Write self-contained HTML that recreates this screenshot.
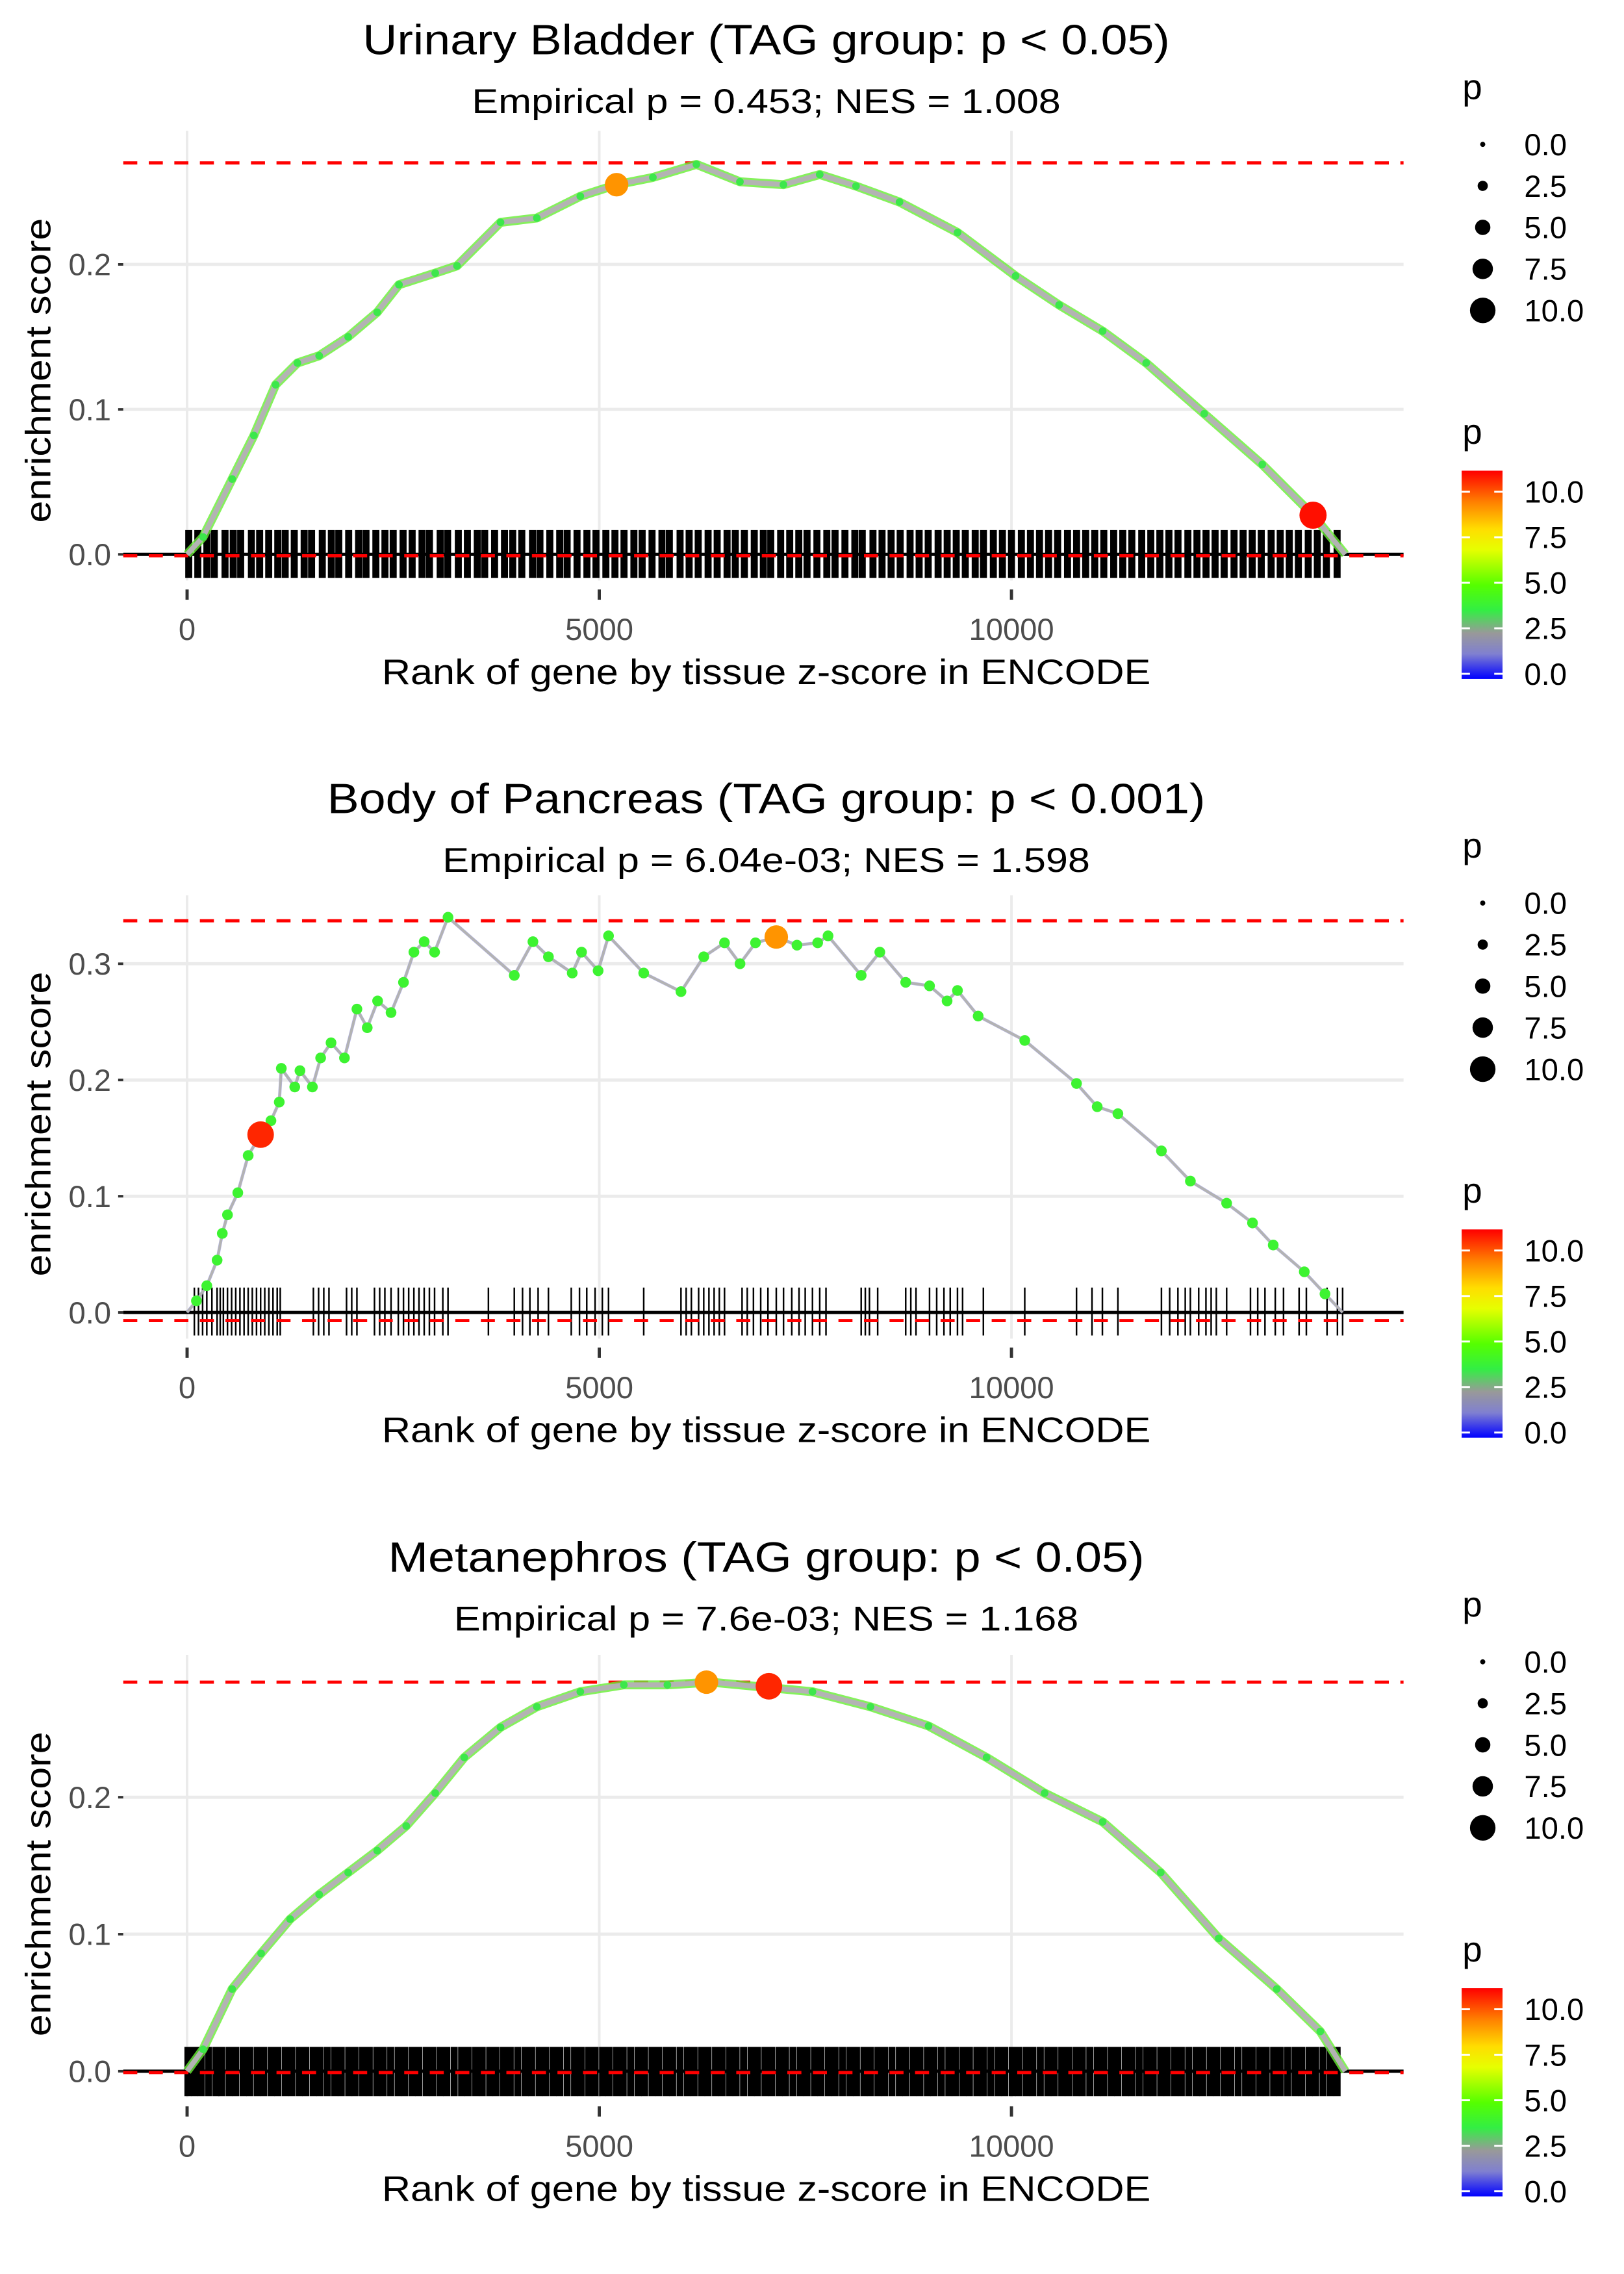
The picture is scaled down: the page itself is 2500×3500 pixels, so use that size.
<!DOCTYPE html>
<html><head><meta charset="utf-8"><style>
html,body{margin:0;padding:0;background:#fff;}
svg{display:block;font-family:"Liberation Sans",sans-serif;}
</style></head><body>
<svg id="chart" width="2500" height="3500" viewBox="0 0 2500 3500" xmlns="http://www.w3.org/2000/svg">
<defs>
<linearGradient id="pgrad" x1="0" y1="1" x2="0" y2="0">
<stop offset="0" stop-color="#0000ff"/><stop offset="0.12" stop-color="#8080d0"/><stop offset="0.22" stop-color="#999999"/>
<stop offset="0.33" stop-color="#33ee44"/><stop offset="0.45" stop-color="#55ff00"/><stop offset="0.62" stop-color="#e6ff00"/>
<stop offset="0.72" stop-color="#ffdd00"/><stop offset="0.85" stop-color="#ff8000"/><stop offset="1" stop-color="#ff0000"/>
</linearGradient>
</defs>
<g id="root" transform="scale(0.983)"></g>
</svg>
<script>
// ---- Panel 1: Urinary Bladder ----
const p1Rank=[0,194,546,810,1074,1338,1602,1954,2306,2570,3010,3274,3802,4242,4770,5210,5650,6178,6706,7234,7674,8114,8642,9346,10050,10578,11106,11634,12338,13042,13658,14049];
const p1ES=[0,.012,.052,.082,.117,.132,.137,.150,.167,.186,.194,.199,.229,.232,.247,.255,.260,.269,.257,.255,.262,.254,.243,.222,.192,.172,.154,.132,.097,.062,.027,0];
const p1BigRank=[5210,13658];
const p1BigES=[.255,.027];
const p1BigP=[9,10.8];
const p1Hits=[20,130,240,330,460,560,650,780,880,990,1100,1190,1300,1420,1510,1640,1750,1840,1960,2080,2170,2290,2400,2500,2620,2730,2850,2940,3070,3160,3290,3400,3520,3610,3730,3850,3950,4060,4190,4280,4400,4520,4610,4730,4850,4960,5080,5190,5300,5420,5520,5640,5760,5850,5980,6090,6200,6320,6430,6550,6650,6760,6880,6990,7080,7200,7310,7420,7520,7640,7760,7860,7980,8100,8190,8320,8430,8540,8650,8770,8880,8990,9110,9220,9330,9440,9560,9660,9780,9890,10000,10120,10230,10340,10450,10560,10680,10790,10900,11010,11120,11240,11350,11460,11580,11690,11800,11910,12020,12140,12250,12360,12470,12580,12700,12810,12920,13030,13150,13260,13370,13480,13600,13710,13820,13950];
// ---- Panel 2: Body of Pancreas ----
const p2Rank=[0,113,239,364,427,490,615,741,892,1017,1118,1143,1306,1369,1520,1620,1746,1909,2060,2185,2311,2474,2625,2751,2876,3002,3165,3969,4195,4383,4672,4785,4986,5112,5539,5991,6267,6519,6707,6895,7147,7398,7649,7775,8177,8403,8717,9006,9219,9345,9596,10161,10789,11040,11291,11819,12170,12610,12924,13175,13552,13803,14017];
const p2ES=[0,.010,.023,.045,.068,.084,.103,.135,.153,.165,.181,.210,.194,.208,.194,.219,.232,.219,.261,.245,.268,.258,.284,.310,.319,.310,.340,.290,.319,.306,.292,.310,.294,.324,.292,.276,.306,.318,.300,.318,.323,.316,.318,.324,.290,.310,.284,.281,.268,.277,.255,.234,.197,.177,.171,.139,.113,.094,.077,.058,.035,.016,0];
const p2BigRank=[892,7147];
const p2BigES=[.153,.323];
const p2BigP=[10.5,9];
const p2Hits=[88,138,188,239,301,364,402,440,490,540,590,641,691,741,791,842,892,942,992,1042,1093,1130,1532,1595,1658,1721,1934,1997,2060,2273,2336,2399,2474,2562,2625,2688,2751,2813,2876,2939,3002,3102,3165,3655,3969,4069,4158,4258,4383,4660,4760,4848,4949,5037,5112,5539,5991,6054,6117,6205,6267,6330,6393,6456,6519,6732,6795,6870,6958,7046,7147,7235,7335,7423,7498,7586,7674,7750,8177,8227,8277,8377,8717,8779,8842,9006,9093,9181,9257,9345,9407,9659,10161,10789,10977,11103,11291,11819,11919,12019,12108,12170,12271,12359,12422,12485,12610,12899,12987,13075,13200,13300,13489,13577,13828,13954,14017];
// ---- Panel 3: Metanephros ----
const p3Rank=[0,194,546,898,1250,1602,1954,2306,2658,3010,3362,3802,4242,4770,5298,5826,6354,7058,7586,8290,8994,9698,10402,11106,11810,12514,13218,13746,14049];
const p3ES=[0,.016,.060,.086,.111,.129,.145,.161,.179,.203,.229,.251,.266,.277,.282,.282,.284,.280,.277,.266,.252,.229,.203,.182,.145,.097,.060,.029,0];
const p3BigRank=[6300,7058];
const p3BigES=[.284,.281];
const p3BigP=[9,10.5];
const p3Hits=[10,90,170,260,350,420,510,590,680,760,850,930,1020,1100,1190,1270,1360,1440,1530,1610,1700,1790,1870,1960,2040,2130,2210,2300,2380,2470,2560,2640,2730,2810,2900,2980,3070,3150,3240,3330,3410,3500,3580,3670,3750,3840,3920,4010,4100,4180,4270,4350,4440,4520,4610,4700,4780,4870,4950,5040,5120,5210,5290,5380,5470,5550,5640,5720,5810,5890,5980,6070,6150,6240,6320,6410,6490,6580,6660,6750,6840,6920,7010,7090,7180,7260,7350,7440,7520,7610,7690,7780,7860,7950,8040,8120,8210,8290,8380,8460,8550,8640,8720,8810,8890,8980,9060,9150,9240,9320,9410,9490,9580,9660,9750,9840,9920,10010,10090,10180,10260,10350,10440,10520,10610,10690,10780,10860,10950,11040,11120,11210,11290,11380,11460,11550,11640,11720,11810,11890,11980,12060,12150,12240,12320,12410,12490,12580,12660,12750,12840,12920,13010,13090,13180,13260,13350,13440,13520,13610,13690,13780,13870,13950];

const titles=["Urinary Bladder (TAG group: p < 0.05)","Body of Pancreas (TAG group: p < 0.001)","Metanephros (TAG group: p < 0.05)"];
const subtitles=["Empirical p = 0.453; NES = 1.008","Empirical p = 6.04e-03; NES = 1.598","Empirical p = 7.6e-03; NES = 1.168"];
const yTickVals=[[0,0.1,0.2],[0,0.1,0.2,0.3],[0,0.1,0.2]];
const xTickVals=[0,5000,10000];
const maxES=[0.270,0.337,0.284];
const minES=[-0.001,-0.007,-0.001];
const sizeLegendVals=[0,2.5,5,7.5,10];
const colorLegendVals=[0,2.5,5,7.5,10];

const svg=document.getElementById('root');
const NS='http://www.w3.org/2000/svg';
function mk(tag,attrs,parent){const e=document.createElementNS(NS,tag);for(const k in attrs)e.setAttribute(k,attrs[k]);(parent||svg).appendChild(e);return e;}
function lerp(a,b,t){return a+(b-a)*t;}
const cstops=[[0,[0,0,255]],[1.3,[128,128,208]],[2.4,[153,153,153]],[3.6,[51,238,68]],[5,[85,255,0]],[6.8,[230,255,0]],[7.9,[255,221,0]],[9.3,[255,128,0]],[11,[255,0,0]]];
function pColor(p){for(let i=1;i<cstops.length;i++){if(p<=cstops[i][0]){const a=cstops[i-1],b=cstops[i];const t=(p-a[0])/(b[0]-a[0]);return 'rgb('+a[1].map((v,j)=>Math.round(lerp(v,b[1][j],t))).join(',')+')';}}return 'rgb(255,0,0)';}
function pRadius(p){return 4+p*1.6;}

const X=r=>293+r*(1584-293)/10000;
const cfg=[
 {dy:0,y0:868,per:2270,top:205,bot:909,rugT:830,rugB:905,tw:1264,sw:922,yc:580},
 {dy:1188,y0:2055,per:1820,top:1402,bot:2096,rugT:2016,rugB:2091,tw:1375,sw:1014,yc:1760},
 {dy:2376,y0:3243,per:2145,top:2591,bot:3284,rugT:3205,rugB:3282,tw:1184,sw:978,yc:2950}
];
const ranks=[p1Rank,p2Rank,p3Rank], ess=[p1ES,p2ES,p3ES];
const bigR=[p1BigRank,p2BigRank,p3BigRank], bigE=[p1BigES,p2BigES,p3BigES], bigP=[p1BigP,p2BigP,p3BigP];
const hits=[p1Hits,p2Hits,p3Hits];
const names=['urinary-bladder','body-of-pancreas','metanephros'];
const dotP=[3.5,4,3.5];

cfg.forEach((c,k)=>{
 const Y=v=>c.y0-v*c.per;
 const g=mk('g',{});
 
 
 const t=mk('text',{x:1200,y:85+c.dy,'text-anchor':'middle','font-size':66,fill:'#000',textLength:c.tw,lengthAdjust:'spacingAndGlyphs'},g);t.textContent=titles[k];
 
 
 const st=mk('text',{x:1200,y:177+c.dy,'text-anchor':'middle','font-size':54,fill:'#000',textLength:c.sw,lengthAdjust:'spacingAndGlyphs'},g);st.textContent=subtitles[k];
 
 
 xTickVals.forEach(v=>{const l=mk('line',{x1:X(v),x2:X(v),y1:c.top,y2:c.bot,stroke:'#ebebeb','stroke-width':4},g);
  
  });
 yTickVals[k].forEach(v=>{const l=mk('line',{x1:193,x2:2198,y1:Y(v),y2:Y(v),stroke:'#ebebeb','stroke-width':5},g);
  
  
  const tk=mk('line',{x1:185,x2:193,y1:Y(v),y2:Y(v),stroke:'#333','stroke-width':4},g);
  
  
  const tl=mk('text',{x:174,y:Y(v)+17,'text-anchor':'end','font-size':48,fill:'#4d4d4d'},g);tl.textContent=v.toFixed(1);
  
  });
 xTickVals.forEach(v=>{const tk=mk('line',{x1:X(v),x2:X(v),y1:c.bot+14,y2:c.bot+30,stroke:'#333','stroke-width':5},g);
  
  
  const tl=mk('text',{x:X(v),y:c.bot+93,'text-anchor':'middle','font-size':48,fill:'#4d4d4d'},g);tl.textContent=String(v);
  
  });
 hits[k].forEach(h=>{const l=mk('line',{x1:X(h),x2:X(h),y1:c.rugT,y2:c.rugB,stroke:'#000','stroke-width':k==1?2.5:11},g);
  
  });
 const zl=mk('line',{x1:193,x2:2198,y1:Y(0),y2:Y(0),stroke:'#000','stroke-width':5},g);
 
 
 [maxES[k],minES[k]].forEach(v=>{const l=mk('line',{x1:193,x2:2198,y1:Y(v),y2:Y(v),stroke:'#ff0000','stroke-width':5,'stroke-dasharray':'22 18'},g);
  
  });
 const pts=ranks[k].map((r,i)=>X(r)+','+Y(ess[k][i])).join(' ');
 const under=mk('polyline',{points:pts,fill:'none',stroke:k==1?'#7070e0':'#66ee33','stroke-width':k==1?5:14,'stroke-linejoin':'round',opacity:k==1?0.5:0.8},g);
 
 
 const line=mk('polyline',{points:pts,fill:'none',stroke:'#b3b3b3','stroke-width':k==1?4:8,'stroke-linejoin':'round'},g);
 
 
 ranks[k].forEach((r,i)=>{if(i==0||i==ranks[k].length-1)return;
  const d=mk('circle',{cx:X(r),cy:Y(ess[k][i]),r:k==1?pRadius(dotP[k])-2:6,fill:pColor(dotP[k])},g);
  
  });
 bigR[k].forEach((r,i)=>{const d=mk('circle',{cx:X(r),cy:Y(bigE[k][i]),r:pRadius(bigP[k][i]),fill:pColor(bigP[k][i])},g);
  
  });
 const xt=mk('text',{x:1200,y:c.bot+162,'text-anchor':'middle','font-size':56,fill:'#000',textLength:1204,lengthAdjust:'spacingAndGlyphs'},g);xt.textContent='Rank of gene by tissue z-score in ENCODE';
 
 
 const yt=mk('text',{x:0,y:0,'text-anchor':'middle','font-size':56,fill:'#000',textLength:477,lengthAdjust:'spacingAndGlyphs',transform:'translate(79,'+(c.yc)+') rotate(-90)'},g);yt.textContent='enrichment score';
 
 
 const sl=mk('g',{},g);
 
 
 const sp=mk('text',{x:2290,y:155+c.dy,'font-size':56,fill:'#000'},sl);sp.textContent='p';
 sizeLegendVals.forEach((v,i)=>{const cy=226+i*65+c.dy;
  const d=mk('circle',{cx:2322,cy:cy,r:pRadius(v),fill:'#000'},sl);
  
  
  const tl=mk('text',{x:2387,y:cy+17,'font-size':48,fill:'#000'},sl);tl.textContent=v.toFixed(1);
  
  });
 const cl=mk('g',{},g);
 
 
 const cp=mk('text',{x:2290,y:695+c.dy,'font-size':56,fill:'#000'},cl);cp.textContent='p';
 const bar=mk('rect',{x:2289,y:737+c.dy,width:64,height:326,fill:'url(#pgrad)'},cl);
 
 
 colorLegendVals.forEach(v=>{const yy=1055+c.dy-v*28.5;
  mk('line',{x1:2289,x2:2302,y1:yy,y2:yy,stroke:'#fff','stroke-width':3},cl);
  mk('line',{x1:2340,x2:2353,y1:yy,y2:yy,stroke:'#fff','stroke-width':3},cl);
  const tl=mk('text',{x:2387,y:yy+17,'font-size':48,fill:'#000'},cl);tl.textContent=v.toFixed(1);
  
  });
});
</script>
</body></html>
